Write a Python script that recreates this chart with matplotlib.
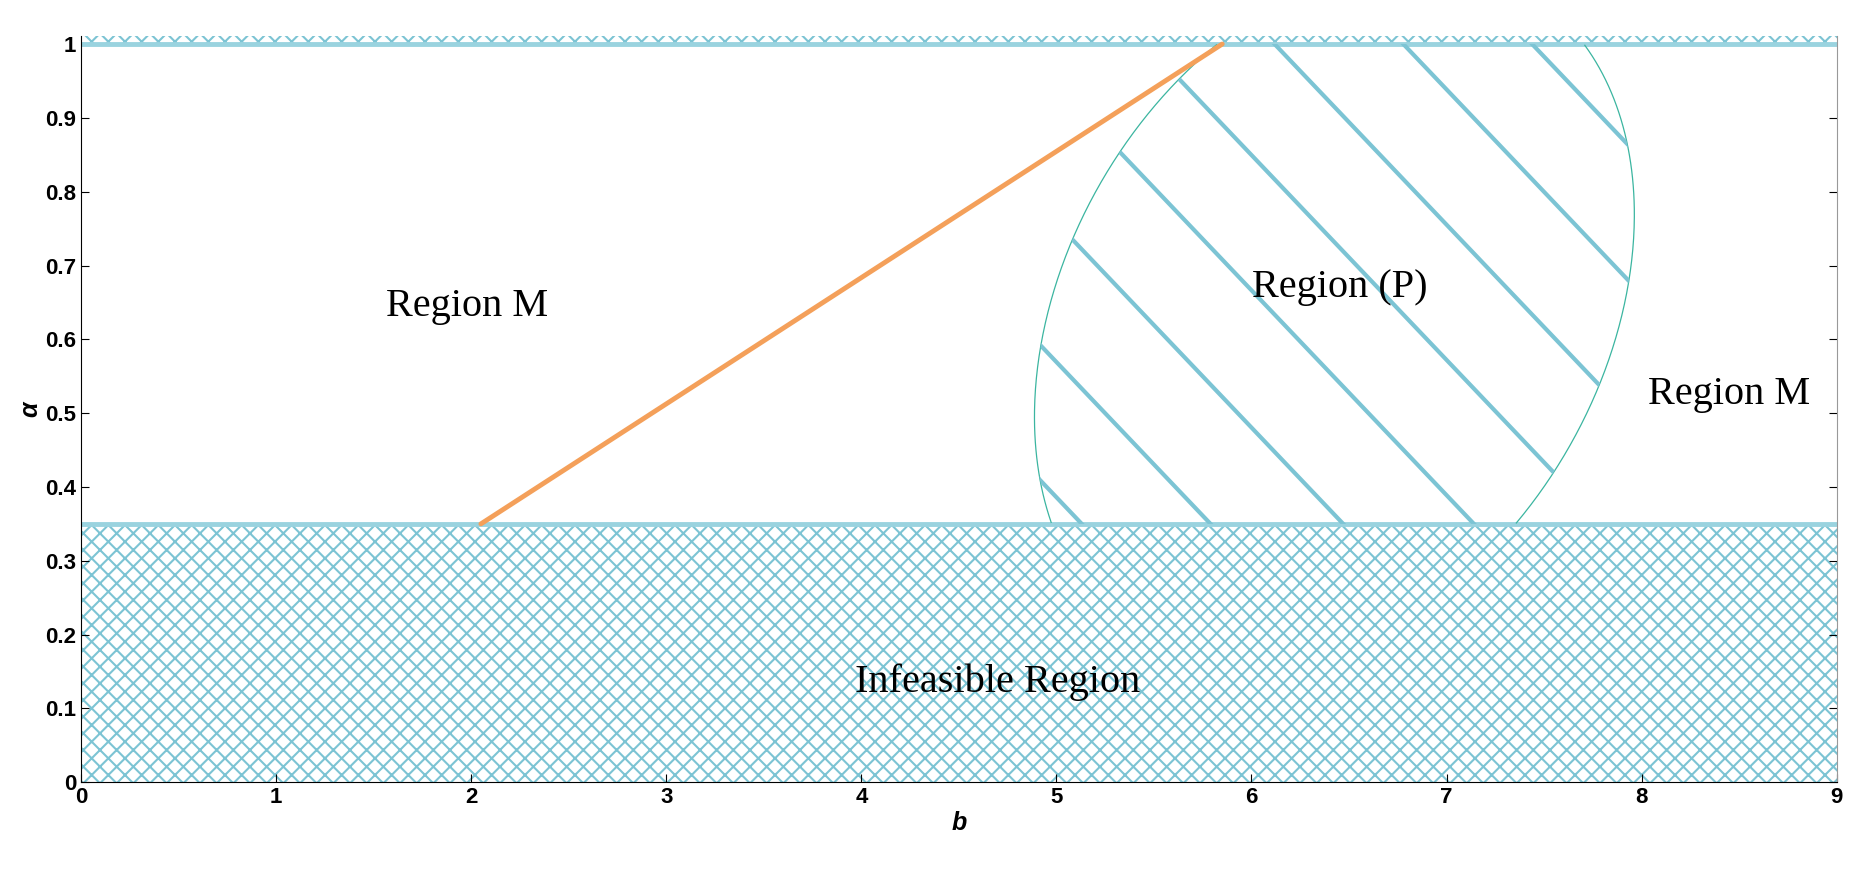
import numpy as np
import matplotlib
matplotlib.use("Agg")
import matplotlib.pyplot as plt
from matplotlib.path import Path
from matplotlib.patches import PathPatch

alpha_min = 0.35
alpha_max = 1.0
orange_b = [2.05, 5.85]
orange_a = [0.35, 1.0]
ell_center = (6.425, 0.632)
hatch_b0 = [3.15, 3.81, 4.47, 5.13, 5.79, 6.47, 7.14, 7.8, 8.46, 9.12, 9.78]  # b at alpha=0.35
labels = [("Region M", 1.98, 0.645), ("Region (P)", 6.45, 0.67), ("Region M", 8.45, 0.525),
          ("Infeasible Region", 4.7, 0.135)]

PX, PY = 163.9, 620.0
blue = '#7cc4d4'

fig = plt.figure(figsize=(18.57, 8.76), dpi=100)
ax = fig.add_axes([0.0436, 0.107, 0.9455, 0.852])
ax.set_xlim(0, 9)
ax.set_ylim(0, 1.011)

plt.rcParams['hatch.linewidth'] = 1.5
ax.fill_between([0, 9], 0, alpha_min, facecolor='none', edgecolor=blue, hatch='xx', linewidth=0)
ax.fill_between([0, 9], alpha_max, 1.011, facecolor='none', edgecolor=blue, hatch='xx', linewidth=0)
ax.axhline(alpha_min, color='#9ad3df', lw=3.5)
ax.axhline(alpha_max, color='#9ad3df', lw=3.5)

A, B, C = 1.716e-5, -4.187e-6, 1.242e-5
M = np.array([[A, B], [B, C]])
w, V = np.linalg.eigh(M)
t = np.linspace(0, 2*np.pi, 800)
pts = (V @ np.vstack([np.cos(t)/np.sqrt(w[0]), np.sin(t)/np.sqrt(w[1])])).T
eb = ell_center[0] + pts[:, 0]/PX
ea = ell_center[1] + pts[:, 1]/PY
ea_c = np.where((ea >= alpha_min) & (ea <= alpha_max), ea, np.nan)
ax.plot(eb, ea_c, color='#3bb5a0', lw=0.9)
clip = PathPatch(Path(np.column_stack([eb, np.clip(ea, alpha_min, alpha_max)])),
                 transform=ax.transData, facecolor='none', edgecolor='none')
ax.add_patch(clip)

s = 1.05
for b0 in hatch_b0:
    bb = np.array([b0 - 4.0, b0])
    aa = alpha_min - (bb - b0) * PX * s / PY
    ln, = ax.plot(bb, aa, color=blue, lw=3)
    ln.set_clip_path(clip)

ax.plot(orange_b, orange_a, color='#f4a05a', lw=3.5, solid_capstyle='round')

for txt, x, y in labels:
    ax.text(x, y, txt, fontsize=29, family='Liberation Serif', ha='center', va='center')

ax.set_xticks(range(10))
ax.set_yticks([0, 0.1, 0.2, 0.3, 0.4, 0.5, 0.6, 0.7, 0.8, 0.9, 1])
ax.set_yticklabels(['0', '0.1', '0.2', '0.3', '0.4', '0.5', '0.6', '0.7', '0.8', '0.9', '1'])
ax.tick_params(direction='in', top=False, right=True, labelsize=16, length=6)
for lab in ax.get_xticklabels() + ax.get_yticklabels():
    lab.set_fontweight('bold')
    lab.set_family('Liberation Sans')
ax.set_xlabel('b', fontsize=18, fontweight='bold', style='italic', labelpad=2, family='Liberation Sans')
ax.set_ylabel('α', fontsize=18, fontweight='bold', style='italic', labelpad=2, family='Liberation Sans')
ax.spines['top'].set_visible(False)
ax.spines['right'].set_color('#999999')
fig.savefig('out.png', dpi=100)
